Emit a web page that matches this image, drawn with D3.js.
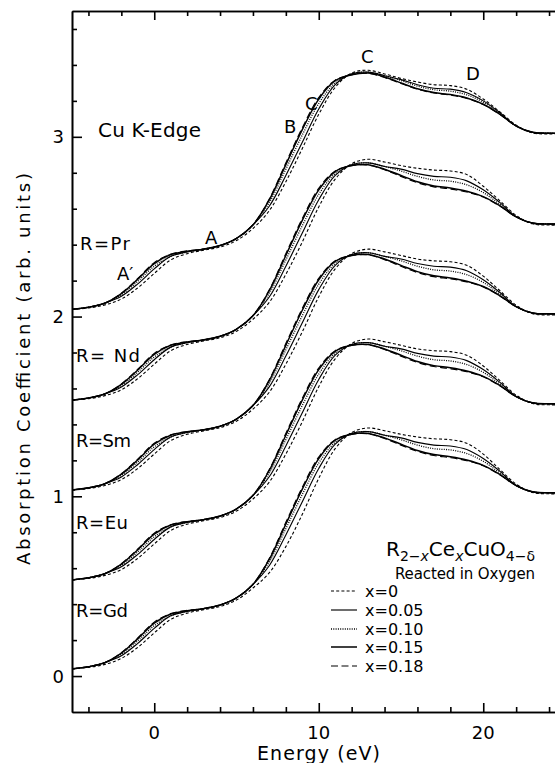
<!DOCTYPE html>
<html><head><meta charset="utf-8">
<script src="https://cdn.jsdelivr.net/npm/d3@7"></script>
<style>
body{margin:0;background:#fff}
svg{display:block}
text{font-family:"DejaVu Sans",sans-serif;fill:#000}
</style>
</head><body>
<svg id="chart" width="555" height="763"></svg>
<script>
// ---------- data ----------
const energy = [-5,-4,-3,-2,-1,0,1,2,3,4,5,6,7,8,9,10,11,12,13,14,15,16,17,18,19,20,21,22,23,24,25];
const ceContent = ["x=0","x=0.05","x=0.10","x=0.15","x=0.18"];
const compounds = ["R=Gd","R=Eu","R=Sm","R= Nd","R=Pr"];
const xTickMajor = [0,10,20];
const yTickMajor = [0,1,2,3];

// R = Gd  (series order: x=0, 0.05, 0.10, 0.15, 0.18)
const gd = [
 [0.04,0.048,0.065,0.098,0.16,0.24,0.315,0.35,0.369,0.387,0.423,0.49,0.575,0.72,0.90,1.10,1.265,1.355,1.38,1.365,1.345,1.33,1.32,1.315,1.295,1.235,1.15,1.068,1.021,1.014,1.014],
 [0.04,0.052,0.075,0.113,0.182,0.265,0.335,0.36,0.375,0.395,0.435,0.51,0.615,0.785,0.97,1.155,1.29,1.35,1.36,1.34,1.325,1.30,1.285,1.28,1.26,1.21,1.14,1.06,1.025,1.02,1.02],
 [0.04,0.052,0.075,0.122,0.196,0.28,0.335,0.36,0.375,0.395,0.435,0.51,0.635,0.82,1.01,1.185,1.30,1.35,1.36,1.34,1.315,1.285,1.265,1.258,1.238,1.195,1.13,1.06,1.025,1.02,1.02],
 [0.04,0.052,0.075,0.128,0.208,0.295,0.345,0.364,0.375,0.395,0.435,0.51,0.65,0.845,1.04,1.21,1.312,1.345,1.35,1.325,1.29,1.255,1.232,1.22,1.202,1.172,1.122,1.06,1.025,1.02,1.02],
 [0.04,0.052,0.075,0.13,0.212,0.30,0.347,0.365,0.375,0.395,0.435,0.51,0.655,0.855,1.05,1.218,1.315,1.345,1.348,1.322,1.285,1.25,1.227,1.215,1.198,1.17,1.12,1.06,1.025,1.02,1.02]
];
// R = Eu
const eu = [
 [0.535,0.543,0.56,0.593,0.655,0.735,0.81,0.845,0.864,0.882,0.918,0.985,1.08,1.235,1.415,1.61,1.765,1.85,1.875,1.86,1.84,1.82,1.81,1.805,1.785,1.725,1.645,1.563,1.516,1.509,1.509],
 [0.535,0.547,0.57,0.608,0.677,0.76,0.83,0.855,0.87,0.89,0.93,1.005,1.11,1.28,1.465,1.65,1.785,1.845,1.855,1.835,1.82,1.795,1.78,1.775,1.755,1.705,1.635,1.555,1.52,1.515,1.515],
 [0.535,0.547,0.57,0.617,0.691,0.775,0.83,0.855,0.87,0.89,0.93,1.005,1.13,1.315,1.505,1.68,1.795,1.845,1.855,1.835,1.81,1.78,1.76,1.753,1.733,1.69,1.625,1.555,1.52,1.515,1.515],
 [0.535,0.547,0.57,0.623,0.703,0.79,0.84,0.859,0.87,0.89,0.93,1.005,1.145,1.34,1.535,1.705,1.807,1.84,1.845,1.82,1.785,1.75,1.727,1.715,1.697,1.667,1.617,1.555,1.52,1.515,1.515],
 [0.535,0.547,0.57,0.625,0.707,0.795,0.842,0.86,0.87,0.89,0.93,1.005,1.15,1.35,1.545,1.713,1.81,1.84,1.843,1.817,1.78,1.745,1.722,1.71,1.693,1.665,1.615,1.555,1.52,1.515,1.515]
];
// R = Sm
const sm = [
 [1.035,1.043,1.06,1.093,1.155,1.235,1.31,1.345,1.364,1.382,1.418,1.485,1.58,1.735,1.915,2.11,2.265,2.35,2.375,2.36,2.34,2.32,2.31,2.305,2.285,2.225,2.145,2.063,2.016,2.009,2.009],
 [1.035,1.047,1.07,1.108,1.177,1.26,1.33,1.355,1.37,1.39,1.43,1.505,1.61,1.78,1.965,2.15,2.285,2.345,2.355,2.335,2.32,2.295,2.28,2.275,2.255,2.205,2.135,2.055,2.02,2.015,2.015],
 [1.035,1.047,1.07,1.117,1.191,1.275,1.33,1.355,1.37,1.39,1.43,1.505,1.63,1.815,2.005,2.18,2.295,2.345,2.355,2.335,2.31,2.28,2.26,2.253,2.233,2.19,2.125,2.055,2.02,2.015,2.015],
 [1.035,1.047,1.07,1.123,1.203,1.29,1.34,1.359,1.37,1.39,1.43,1.505,1.645,1.84,2.035,2.205,2.307,2.34,2.345,2.32,2.285,2.25,2.227,2.215,2.197,2.167,2.117,2.055,2.02,2.015,2.015],
 [1.035,1.047,1.07,1.125,1.207,1.295,1.342,1.36,1.37,1.39,1.43,1.505,1.65,1.85,2.045,2.213,2.31,2.34,2.343,2.317,2.28,2.245,2.222,2.21,2.193,2.165,2.115,2.055,2.02,2.015,2.015]
];
// R = Nd
const nd = [
 [1.535,1.543,1.56,1.593,1.655,1.735,1.81,1.845,1.864,1.882,1.918,1.985,2.08,2.235,2.415,2.61,2.765,2.85,2.875,2.86,2.84,2.825,2.815,2.81,2.79,2.725,2.645,2.563,2.516,2.509,2.509],
 [1.535,1.547,1.57,1.608,1.677,1.76,1.83,1.855,1.87,1.89,1.93,2.005,2.11,2.28,2.465,2.65,2.785,2.845,2.855,2.835,2.82,2.795,2.78,2.775,2.755,2.705,2.635,2.555,2.52,2.515,2.515],
 [1.535,1.547,1.57,1.617,1.691,1.775,1.83,1.855,1.87,1.89,1.93,2.005,2.13,2.315,2.505,2.68,2.795,2.845,2.855,2.835,2.81,2.78,2.76,2.753,2.733,2.69,2.625,2.555,2.52,2.515,2.515],
 [1.535,1.547,1.57,1.623,1.703,1.79,1.84,1.859,1.87,1.89,1.93,2.005,2.145,2.34,2.535,2.705,2.807,2.84,2.845,2.82,2.785,2.75,2.727,2.715,2.697,2.667,2.617,2.555,2.52,2.515,2.515],
 [1.535,1.547,1.57,1.625,1.707,1.795,1.842,1.86,1.87,1.89,1.93,2.005,2.15,2.35,2.545,2.713,2.81,2.84,2.843,2.817,2.78,2.745,2.722,2.71,2.693,2.665,2.615,2.555,2.52,2.515,2.515]
];
// R = Pr
const pr = [
 [2.04,2.048,2.065,2.098,2.16,2.24,2.315,2.35,2.369,2.387,2.423,2.49,2.59,2.75,2.935,3.125,3.275,3.355,3.37,3.35,3.325,3.305,3.29,3.285,3.265,3.21,3.14,3.065,3.022,3.016,3.016],
 [2.04,2.052,2.075,2.113,2.182,2.265,2.335,2.36,2.375,2.395,2.435,2.51,2.615,2.785,2.97,3.155,3.29,3.35,3.36,3.34,3.318,3.29,3.27,3.265,3.245,3.2,3.135,3.06,3.025,3.02,3.02],
 [2.04,2.052,2.075,2.122,2.196,2.28,2.335,2.36,2.375,2.395,2.435,2.51,2.635,2.82,3.01,3.185,3.30,3.35,3.36,3.34,3.313,3.282,3.262,3.254,3.234,3.192,3.13,3.06,3.025,3.02,3.02],
 [2.04,2.052,2.075,2.128,2.208,2.295,2.345,2.364,2.375,2.395,2.435,2.51,2.65,2.845,3.04,3.21,3.312,3.345,3.355,3.333,3.30,3.267,3.246,3.235,3.216,3.181,3.126,3.06,3.025,3.02,3.02],
 [2.04,2.052,2.075,2.13,2.212,2.30,2.347,2.365,2.375,2.395,2.435,2.51,2.655,2.855,3.05,3.218,3.315,3.345,3.353,3.33,3.297,3.265,3.244,3.232,3.214,3.18,3.125,3.06,3.025,3.02,3.02]
];
const groupData = [gd, eu, sm, nd, pr];

// ---------- drawing ----------
const svg = d3.select("#chart");
const L = 72, T = 11, B = 712, R = 72 + 30*16.45;
const x = d3.scaleLinear().domain([-5,25]).range([L, R]);
const y = d3.scaleLinear().domain([-0.2,3.7]).range([B, T]);

const styles = [
  {dash:"3,2.2", w:1.1},
  {dash:null, w:1.15},
  {dash:"1,1.3", w:1.3},
  {dash:null, w:1.5},
  {dash:"7,3.5", w:1.2}
];

svg.append("clipPath").attr("id","clip").append("rect")
  .attr("x",L).attr("y",T).attr("width",R-L).attr("height",B-T);

const line = d3.line().x((d,i)=>x(energy[i])).y(d=>y(d)).curve(d3.curveCatmullRom.alpha(0.5));
const plot = svg.append("g").attr("clip-path","url(#clip)");
groupData.forEach(g=>{
  g.forEach((s,k)=>{
    plot.append("path").datum(s).attr("d",line)
      .attr("fill","none").attr("stroke","#000")
      .attr("stroke-width",styles[k].w)
      .attr("stroke-dasharray",styles[k].dash);
  });
});

// axes (ticks inward)
const xMinor = d3.range(-4,25,2).filter(v=>!xTickMajor.includes(v));
const yMinor = d3.range(0,3.61,0.2).map(v=>+v.toFixed(1)).filter(v=>!yTickMajor.includes(v));
function styleAxis(g){ g.selectAll("path,line").attr("stroke","#000").attr("stroke-width",1.6); g.selectAll("text").remove(); }

svg.append("g").attr("transform",`translate(0,${B})`)
  .call(d3.axisTop(x).tickValues(xMinor).tickSize(5).tickSizeOuter(0).tickFormat("")).call(styleAxis);
svg.append("g").attr("transform",`translate(0,${B})`)
  .call(d3.axisTop(x).tickValues(xTickMajor).tickSize(9).tickSizeOuter(0).tickFormat("")).call(styleAxis);
svg.append("g").attr("transform",`translate(0,${T})`)
  .call(d3.axisBottom(x).tickValues(xMinor).tickSize(5).tickSizeOuter(0).tickFormat("")).call(styleAxis);
svg.append("g").attr("transform",`translate(0,${T})`)
  .call(d3.axisBottom(x).tickValues(xTickMajor).tickSize(9).tickSizeOuter(0).tickFormat("")).call(styleAxis);
svg.append("g").attr("transform",`translate(${L},0)`)
  .call(d3.axisRight(y).tickValues(yMinor).tickSize(5).tickSizeOuter(0).tickFormat("")).call(styleAxis);
svg.append("g").attr("transform",`translate(${L},0)`)
  .call(d3.axisRight(y).tickValues(yTickMajor).tickSize(10).tickSizeOuter(0).tickFormat("")).call(styleAxis);

// tick labels
svg.selectAll(".xl").data(xTickMajor).enter().append("text")
  .attr("x",d=>x(d)).attr("y",739).attr("text-anchor","middle").attr("font-size",18).text(d=>d);
svg.selectAll(".yl").data(yTickMajor).enter().append("text")
  .attr("x",64).attr("y",d=>y(d)+6.5).attr("text-anchor","end").attr("font-size",18).text(d=>d);

// axis titles
svg.append("text").attr("x",257).attr("y",760).attr("font-size",19)
  .attr("textLength",123).attr("lengthAdjust","spacing").text("Energy (eV)");
svg.append("text").attr("transform","translate(30,565) rotate(-90)")
  .attr("font-size",18).attr("textLength",392).attr("lengthAdjust","spacing")
  .text("Absorption Coefficient (arb. units)");

// annotations
const ann = [
  ["Cu K-Edge",98,137,20,103],
  ["A",205,244,18,0],["A\u2032",117,280,18,0],["B",284,133,18,0],["C\u2032",305,110,18,0],["C",361,63,18,0],["D",466,80,18,0]
];
ann.forEach(a=>{
  const t = svg.append("text").attr("x",a[1]).attr("y",a[2]).attr("font-size",a[3]).text(a[0]);
  if(a[4]) t.attr("textLength",a[4]).attr("lengthAdjust","spacing");
});
const labelY = [617,529,447,362,250];
const labelX = [76,76,76,76,80];
const labelW = [52,52,55,64,50];
compounds.forEach((c,i)=>svg.append("text").attr("x",labelX[i]).attr("y",labelY[i]).attr("font-size",18)
  .attr("textLength",labelW[i]).attr("lengthAdjust","spacing").text(c));

// formula
const f = svg.append("text").attr("x",386).attr("y",556).attr("font-size",20);
f.append("tspan").text("R");
f.append("tspan").attr("font-size",14).attr("dy",5).text("2\u2212");
f.append("tspan").attr("font-size",14).attr("font-style","italic").text("x");
f.append("tspan").attr("dy",-5).text("Ce");
f.append("tspan").attr("font-size",14).attr("font-style","italic").attr("dy",5).text("x");
f.append("tspan").attr("dy",-5).text("CuO");
f.append("tspan").attr("font-size",14).attr("dy",5).text("4\u2212\u03b4");
svg.append("text").attr("x",395).attr("y",579).attr("font-size",15)
  .attr("textLength",140).attr("lengthAdjust","spacing").text("Reacted in Oxygen");

// legend
const legY = [597,616,635,653,672];
ceContent.forEach((c,i)=>{
  svg.append("line").attr("x1",331).attr("x2",357).attr("y1",legY[i]-6).attr("y2",legY[i]-6)
    .attr("stroke","#000").attr("stroke-width",styles[i].w).attr("stroke-dasharray",styles[i].dash);
  svg.append("text").attr("x",365).attr("y",legY[i]).attr("font-size",16).text(c);
});
</script>
</body></html>
